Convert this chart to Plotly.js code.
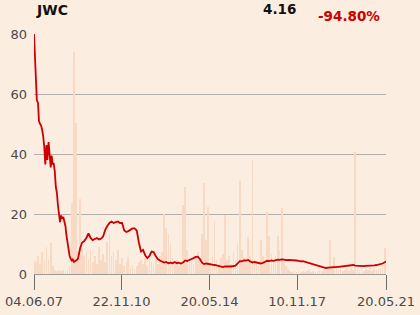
<!DOCTYPE html>
<html>
<head>
<meta charset="utf-8">
<script src="https://cdn.plot.ly/plotly-3.0.1.min.js"></script>
<style>html,body{margin:0;padding:0;background:#fcede1;}#chart{width:420px;height:315px;}</style>
</head>
<body>
<div id="chart"></div>
<script>
// ---- data ----
const ticker = 'JWC';
const lastPriceLabel = '4.16';
const changeLabel = '-94.80%';

const earlyDates = ['2007-06-04','2007-06-15','2007-07-01','2007-07-15','2007-08-01','2007-08-15','2007-09-01','2007-09-15','2007-10-01','2007-10-15','2007-11-01','2007-11-15','2007-12-01','2007-12-15',
 '2008-01-01','2008-01-15','2008-02-01','2008-02-15','2008-03-01','2008-03-15','2008-04-01','2008-04-15','2008-05-01','2008-05-15','2008-06-01','2008-06-15',
 '2008-07-01','2008-07-15','2008-08-01','2008-08-15','2008-09-01','2008-09-15','2008-10-01','2008-10-15','2008-11-01','2008-11-15','2008-12-01','2008-12-15'];
const earlyPrice = [80,73,66,58,57,51,50,49.5,48,46,42,36.5,43,38,
 44,40,35.5,39.5,36.5,37,34,29,27,23,20,17.3,19.5,18.5,19,18,16,13,10.5,8.5,6,5.2,4.5,4.8];

// monthly closes 2009-01 .. 2021-04
const monthlyPrice = [
 4,4.5,5,8.5,10.5,11,12,13.5,12,11.3,
 11.8,12,11.5,11.8,12.5,14.7,16,17,17.5,17,
 17.3,17.5,17,17,14.5,14,14.3,14.7,15.2,15.2,
 14.5,10.5,7.5,8,6.2,5.3,6,7.5,7.3,6,
 5,4.5,4.2,3.8,4,3.6,3.8,3.6,4,3.6,
 3.8,3.5,3.8,4.5,4.3,4.8,5,5.3,5.7,5.8,
 5,3.8,3.3,3.5,3.3,3.3,3.1,3,2.8,2.8,
 2.5,2.3,2.5,2.4,2.5,2.5,2.7,2.8,3.5,4.3,
 4.2,4.5,4.5,4.7,4.2,3.8,4,3.8,3.6,3.5,
 3.7,4,4.4,4.3,4.5,4.4,4.6,4.8,4.7,4.9,
 4.8,4.6,4.7,4.7,4.6,4.5,4.5,4.4,4.2,4.3,
 4.1,3.8,3.6,3.4,3.2,3,2.8,2.6,2.3,2.1,
 2,2.1,2.2,2.4,2.3,2.3,2.4,2.4,2.5,2.5,
 2.6,2.7,2.9,3,2.8,2.7,2.7,2.6,2.6,2.7,
 2.7,2.8,2.8,2.9,3,3.1,3.3,3.5];
const lastDate = '2021-05-20';
const lastPrice = 4.16;

// monthly volume 2007-06 .. 2021-05 (arbitrary units)
const volume = [
 14,12,18,10,22,15,27,14,31,8,
 4,3,4,3,4,3,4,8,71,222,
 151,22,75,26,18,22,15,24,12,18,
 10,27,14,20,12,32,39,18,22,14,
 24,10,16,8,12,17,6,9,5,8,
 12,14,10,16,8,20,12,9,14,10,
 18,22,60,46,40,30,16,10,14,8,
 12,69,87,24,12,16,10,18,22,14,
 40,91,34,67,12,18,54,14,10,16,
 20,59,14,18,10,22,14,30,93,24,
 16,12,37,18,114,14,10,8,34,18,
 12,62,38,20,14,18,38,24,66,12,
 8,5,3,2,3,2,4,2,3,2,
 3,4,2,3,2,3,4,3,5,4,
 6,34,8,17,5,4,6,3,4,5,
 3,6,4,122,5,4,6,3,5,4,
 6,3,5,4,6,5,8,26];

const tickDates = ['2007-06-04','2010-11-22','2014-05-20','2017-11-10','2021-05-20'];
const tickLabels = ['04.06.07','22.11.10','20.05.14','10.11.17','20.05.21'];
const yTicks = [0,20,40,60,80];

// ---- build date lists ----
function monthList(startY, startM, n) {
  const out = [];
  for (let k = 0; k < n; k++) {
    const t = startY * 12 + (startM - 1) + k;
    const y = Math.floor(t / 12), m = t % 12 + 1;
    out.push(y + '-' + String(m).padStart(2, '0') + '-01');
  }
  return out;
}
const volDates = monthList(2007, 6, volume.length);
const monthlyDates = monthList(2009, 1, monthlyPrice.length);

const priceDates = earlyDates.concat(monthlyDates, [lastDate]);
const priceVals = earlyPrice.concat(monthlyPrice, [lastPrice]);

const font = 'DejaVu Sans, sans-serif';

const traces = [
  {
    type: 'bar', x: volDates, y: volume, yaxis: 'y',
    marker: {color: '#f8dac4', line: {width: 0}},
    width: 24 * 86400000, hoverinfo: 'skip'
  },
  {
    type: 'scatter', mode: 'lines', x: priceDates, y: priceVals, yaxis: 'y2',
    line: {color: '#cc0000', width: 1.8}, hoverinfo: 'skip'
  }
];

const layout = {
  width: 420, height: 315,
  margin: {l: 34, r: 34, t: 34, b: 41, pad: 0},
  paper_bgcolor: '#fcede1', plot_bgcolor: '#fcede1',
  showlegend: false,
  bargap: 0,
  font: {family: font, size: 13, color: '#4a4a4a'},
  xaxis: {
    type: 'date', range: ['2007-06-04', '2021-05-20'],
    tickmode: 'array', tickvals: tickDates, ticktext: tickLabels,
    ticks: 'outside', ticklen: 15, tickcolor: '#6e6e6e', tickwidth: 1,
    showgrid: false, showline: true, linecolor: '#9a9a9a', linewidth: 1,
    zeroline: false, automargin: false, fixedrange: true,
    tickfont: {family: font, size: 13, color: '#4a4a4a'}
  },
  yaxis: {
    range: [0, 240], visible: false, showgrid: false, zeroline: false, fixedrange: true
  },
  yaxis2: {
    overlaying: 'y', side: 'left',
    range: [0, 80], tickmode: 'array', tickvals: yTicks,
    showgrid: true, gridcolor: '#b3aea9', gridwidth: 1,
    zeroline: false, showline: false, ticks: '',
    ticklabelstandoff: 6,
    automargin: false, fixedrange: true,
    tickfont: {family: font, size: 13, color: '#4a4a4a'}
  },
  annotations: [
    {xref: 'paper', yref: 'paper', x: 0, y: 1.1, xanchor: 'left', yanchor: 'middle',
     text: '<b>' + ticker + '</b>', showarrow: false,
     font: {family: font, size: 14, color: '#111111'}},
    {xref: 'paper', yref: 'paper', x: 0.75, y: 1.104, xanchor: 'right', yanchor: 'middle',
     text: '<b>' + lastPriceLabel + '</b>', showarrow: false,
     font: {family: font, size: 13.5, color: '#111111'}},
    {xref: 'paper', yref: 'paper', x: 0.989, y: 1.075, xanchor: 'right', yanchor: 'middle',
     text: '<b>' + changeLabel + '</b>', showarrow: false,
     font: {family: font, size: 13.5, color: '#cc0000'}}
  ]
};

Plotly.newPlot('chart', traces, layout, {staticPlot: true, displayModeBar: false});
</script>
</body>
</html>
